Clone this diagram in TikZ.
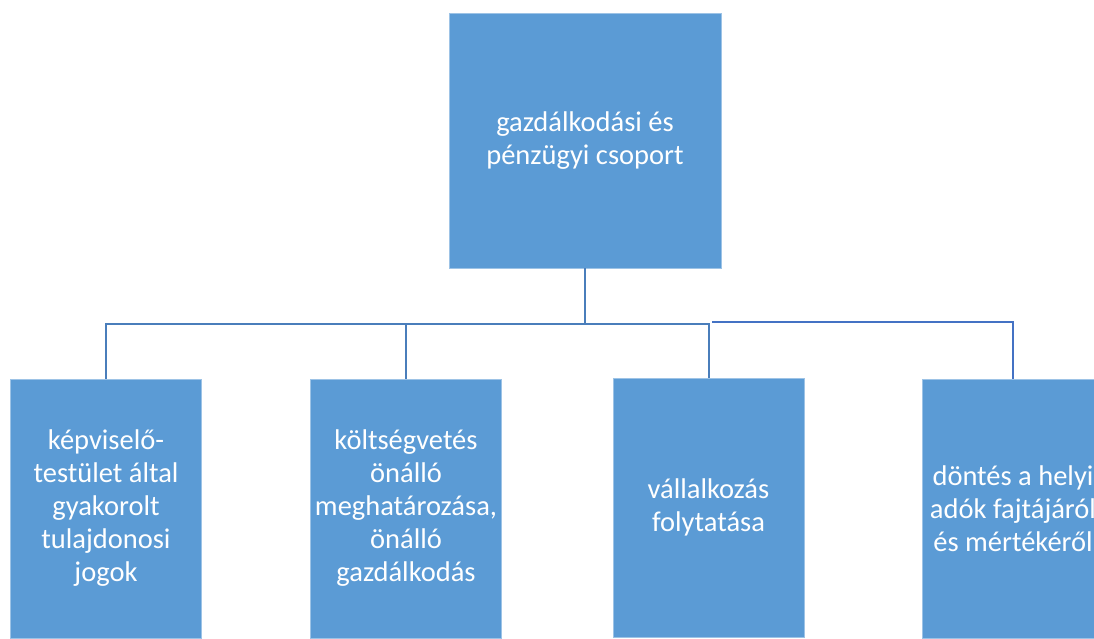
\documentclass[tikz,border=0pt]{standalone}
\usepackage{fontspec}
\setmainfont{Carlito}
\definecolor{boxblue}{HTML}{5B9BD5}
\definecolor{lineblue}{HTML}{4A7EBB}
\definecolor{lineblue2}{HTML}{4472C4}
\begin{document}
\begin{tikzpicture}[x=1pt,y=-1pt,
  box/.style={fill=boxblue,draw=boxblue!60!white,line width=0.6pt,text=white,align=center,
    font=\fontsize{28.5}{33}\selectfont,inner sep=0pt},
  topbox/.style={box,minimum width=272pt,minimum height=255pt},
  subbox/.style={box,minimum width=191pt,minimum height=259pt},
  conn/.style={draw=lineblue,line width=2pt},
  conn2/.style={draw=lineblue2,line width=2.6pt}]
\useasboundingbox (0,0) rectangle (1094,638);
\clip (0,0) rectangle (1094,638);
\node[topbox] (top) at (585,140.5) {gazdálkodási és\\pénzügyi csoport};
\node[subbox] (b1) at (106,508.5) {képviselő-\\testület által\\gyakorolt\\tulajdonosi\\jogok};
\node[subbox] (b2) at (406,508.5) {költségvetés\\önálló\\meghatározása,\\önálló\\gazdálkodás};
\node[subbox] (b3) at (708.5,507.5) {vállalkozás\\folytatása};
\node[subbox,minimum width=182pt] (b4) at (1013,509) {döntés a helyi\\adók fajtájáról\\és mértékéről};
\coordinate (bus) at (585,323.5);
\coordinate (bus2) at (712,322);
\draw[conn] (top.south) -- (bus);
\draw[conn] (bus) -| (b1.north);
\draw[conn] (bus) -| (b2.north);
\draw[conn] (bus) -| (b3.north);
\draw[conn2] (bus2) -| (b4.north);
\end{tikzpicture}
\end{document}
